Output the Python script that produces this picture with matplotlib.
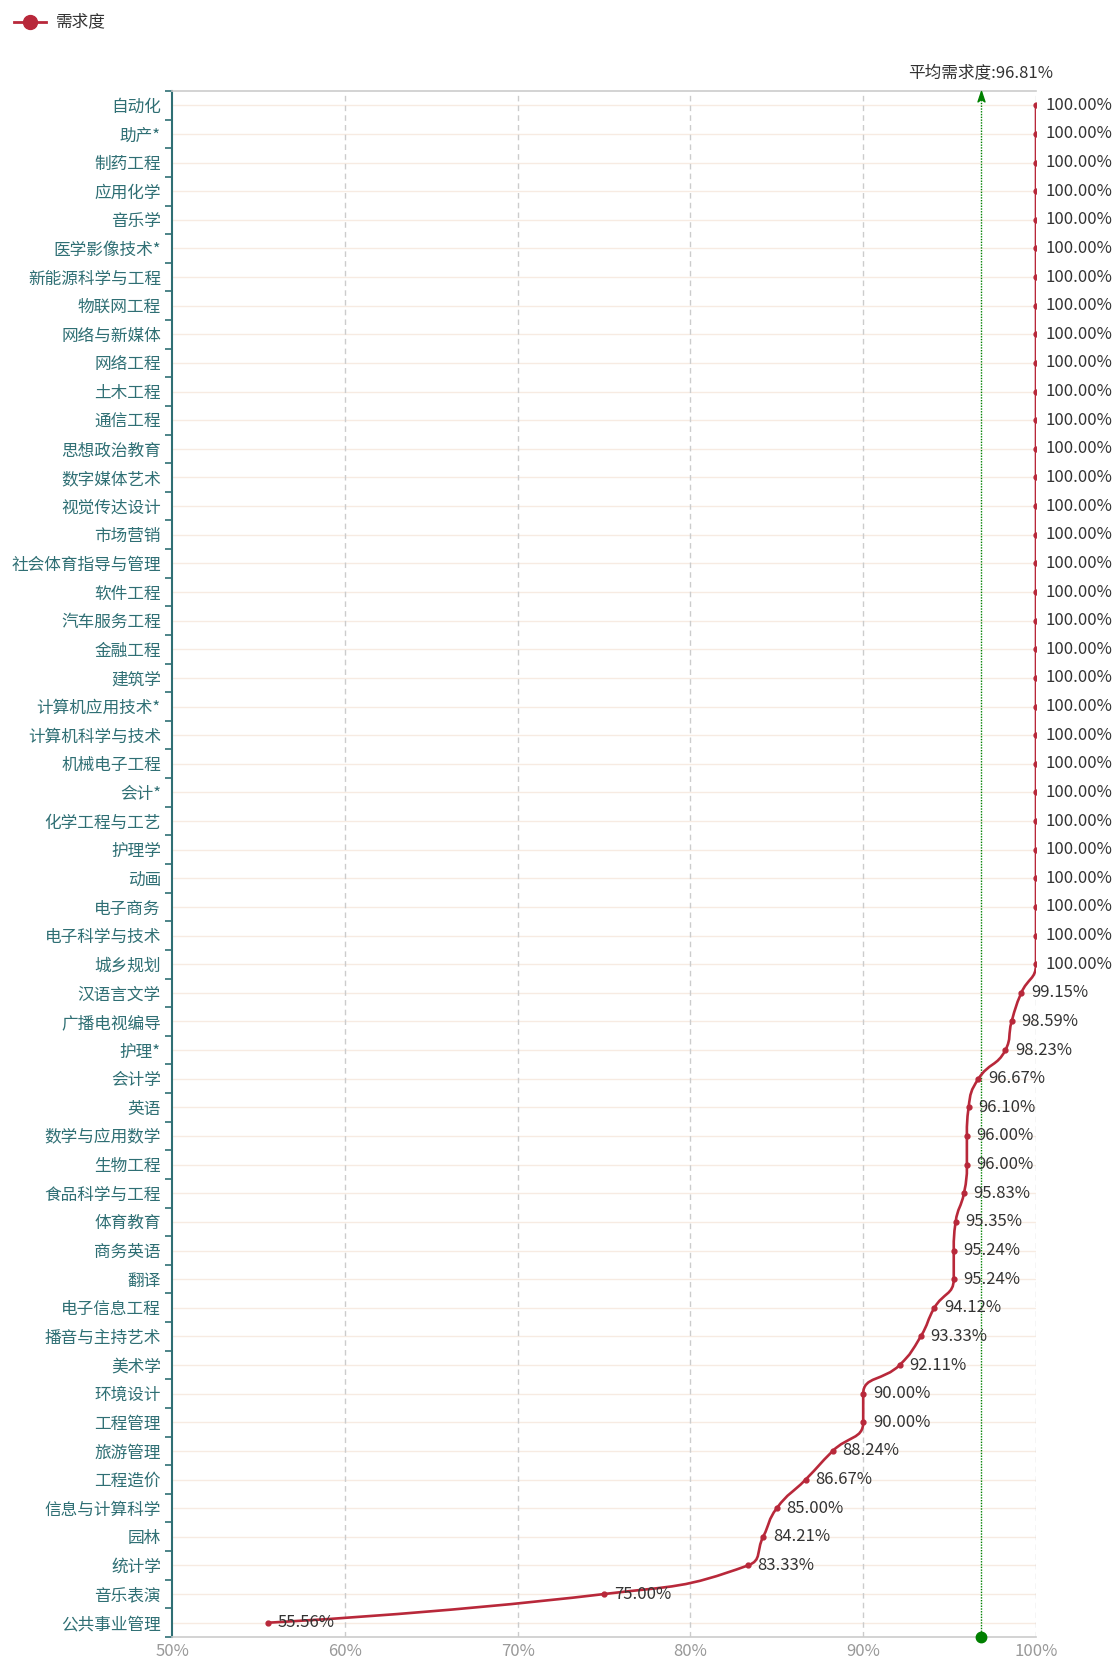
import matplotlib
matplotlib.use('Agg')
import matplotlib.pyplot as plt
from matplotlib.path import Path
from matplotlib.patches import PathPatch
from matplotlib.lines import Line2D
import numpy as np

plt.rcParams['font.family'] = ['Noto Sans CJK SC', 'DejaVu Sans']

majors = ['自动化', '助产*', '制药工程', '应用化学', '音乐学', '医学影像技术*', '新能源科学与工程',
          '物联网工程', '网络与新媒体', '网络工程', '土木工程', '通信工程', '思想政治教育', '数字媒体艺术',
          '视觉传达设计', '市场营销', '社会体育指导与管理', '软件工程', '汽车服务工程', '金融工程', '建筑学',
          '计算机应用技术*', '计算机科学与技术', '机械电子工程', '会计*', '化学工程与工艺', '护理学', '动画',
          '电子商务', '电子科学与技术', '城乡规划',
          '汉语言文学', '广播电视编导', '护理*', '会计学', '英语', '数学与应用数学', '生物工程',
          '食品科学与工程', '体育教育', '商务英语', '翻译', '电子信息工程', '播音与主持艺术', '美术学',
          '环境设计', '工程管理', '旅游管理', '工程造价', '信息与计算科学', '园林', '统计学', '音乐表演',
          '公共事业管理']
demand = [100.00] * 31 + [99.15, 98.59, 98.23, 96.67, 96.10, 96.00, 96.00, 95.83, 95.35, 95.24,
                          95.24, 94.12, 93.33, 92.11, 90.00, 90.00, 88.24, 86.67, 85.00, 84.21,
                          83.33, 75.00, 55.56]
mean_demand = 96.81
x_ticks = [50, 60, 70, 80, 90, 100]
series_name = '需求度'
mean_label = '平均需求度:96.81%'

W, H = 1116, 1663
fig = plt.figure(figsize=(W / 100, H / 100), dpi=100)
L, R, T, B = 172, 1036, 91, 1637
ax = fig.add_axes([L / W, 1 - B / H, (R - L) / W, (B - T) / H])

n = len(majors)
ys = np.arange(n)
ax.set_xlim(50, 100)
ax.set_ylim(n - 0.5, -0.5)

RED = '#b8283a'
TEAL = '#2f6f74'
GREEN = '#008000'
FS = 12

# grid
for yv in ys:
    ax.axhline(yv, color='#f7ebe2', lw=1.0, zorder=0)
for xv in x_ticks[1:]:
    ax.axvline(xv, color='#cccccc', lw=1.0, ls=(0, (4, 3)), zorder=0)

# echarts-like smooth line in display space
P = ax.transData.transform(np.column_stack([demand, ys]))


def smooth_path(P, smooth=0.5):
    verts = [tuple(P[0])]
    codes = [Path.MOVETO]
    cp0 = P[0].copy()
    m = len(P)
    for i in range(1, m):
        x, y = P[i]
        px, py = P[i - 1]
        if i == m - 1:
            cp1 = (x, y)
            ncp0 = None
        else:
            nx, ny = P[i + 1]
            vx, vy = nx - px, ny - py
            lp = np.hypot(x - px, y - py)
            ln = np.hypot(nx - x, ny - y)
            r = ln / (ln + lp)
            ncx = x + vx * smooth * r
            ncy = y + vy * smooth * r
            ncx = min(ncx, max(nx, x)); ncy = min(ncy, max(ny, y))
            ncx = max(ncx, min(nx, x)); ncy = max(ncy, min(ny, y))
            vx, vy = ncx - x, ncy - y
            c1x = x - vx * lp / ln
            c1y = y - vy * lp / ln
            c1x = min(c1x, max(px, x)); c1y = min(c1y, max(py, y))
            c1x = max(c1x, min(px, x)); c1y = max(c1y, min(py, y))
            vx, vy = x - c1x, y - c1y
            ncx = x + vx * ln / lp
            ncy = y + vy * ln / lp
            cp1 = (c1x, c1y)
            ncp0 = (ncx, ncy)
        verts += [tuple(cp0), tuple(cp1), (x, y)]
        codes += [Path.CURVE4] * 3
        cp0 = ncp0
    return np.array(verts), codes


verts, codes = smooth_path(P)
verts_data = ax.transData.inverted().transform(verts)
ax.add_patch(PathPatch(Path(verts_data, codes), fill=False, edgecolor=RED, lw=1.9,
                       zorder=3, capstyle='round', joinstyle='round'))
ax.plot(demand, ys, ls='none', marker='o', ms=3.5, color=RED, zorder=4)

for v, yv in zip(demand, ys):
    ax.annotate(f'{v:.2f}%', (v, yv), xytext=(7, 0), textcoords='offset points',
                ha='left', va='center', fontsize=FS, color='#333333', zorder=5,
                annotation_clip=False)

# mean line
ax.plot([mean_demand, mean_demand], [n - 0.5, -0.5], color=GREEN, lw=1.0,
        ls=(0, (1, 1)), zorder=2, clip_on=False)
arrow = Path([(0, 0), (7, -21), (0, -16), (-7, -21), (0, 0)],
             [Path.MOVETO, Path.LINETO, Path.LINETO, Path.LINETO, Path.CLOSEPOLY])
ax.plot([mean_demand], [-0.5], marker=arrow, ms=15, color=GREEN, mec=GREEN,
        clip_on=False, zorder=6)
ax.plot([mean_demand], [n - 0.5], marker='o', ms=7.5, color=GREEN, clip_on=False, zorder=6)
ax.annotate(mean_label, (mean_demand, -0.5), xytext=(0, 18), textcoords='offset pixels',
            ha='center', va='center', fontsize=FS, color='#333333', annotation_clip=False)

# axes styling
ax.set_xticks(x_ticks)
ax.set_xticklabels([f'{t}%' for t in x_ticks])
ax.set_yticks(ys)
ax.set_yticklabels(majors)
ax.set_yticks(np.arange(n + 1) - 0.5, minor=True)
ax.tick_params(axis='x', length=0, pad=4, labelsize=FS, labelcolor='#999999')
ax.tick_params(axis='y', which='major', length=0, pad=8, labelsize=FS, labelcolor=TEAL)
ax.tick_params(axis='y', which='minor', length=5, width=1.2, color=TEAL)
ax.tick_params(axis='x', which='minor', length=0)
for s in ['top', 'bottom']:
    ax.spines[s].set_color('#cccccc')
    ax.spines[s].set_linewidth(1.2)
ax.spines['right'].set_visible(False)
ax.spines['left'].set_color(TEAL)
ax.spines['left'].set_linewidth(1.5)

# legend
fig.add_artist(Line2D([14 / W, 46 / W], [1 - 22 / H, 1 - 22 / H], color=RED, lw=2,
                      transform=fig.transFigure))
fig.add_artist(Line2D([30 / W], [1 - 22 / H], color=RED, marker='o', ms=10,
                      transform=fig.transFigure))
fig.text(56 / W, 1 - 22 / H, series_name, ha='left', va='center', fontsize=FS, color='#333333')

fig.savefig('out.png', dpi=100)
